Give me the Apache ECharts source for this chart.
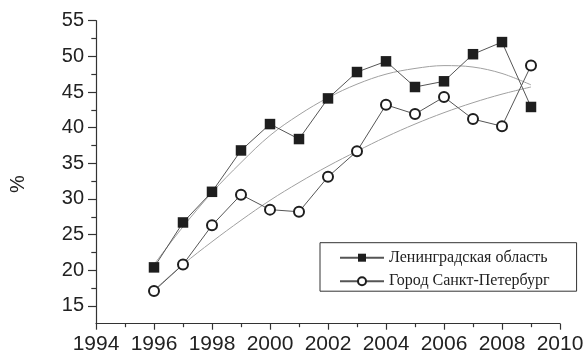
<!DOCTYPE html>
<html>
<head>
<meta charset="utf-8">
<script src="https://cdn.jsdelivr.net/npm/echarts@6/dist/echarts.min.js"></script>
<style>html,body{margin:0;padding:0;background:#fff;}#c{width:587px;height:356px;}</style>
</head>
<body>
<div id="c"></div>
<script>
const years = [1996,1997,1998,1999,2000,2001,2002,2003,2004,2005,2006,2007,2008,2009];
const leningradObl = [20.4,26.7,31.0,36.8,40.5,38.4,44.1,47.8,49.3,45.7,46.5,50.3,52.0,42.9];
const spb = [17.1,20.8,26.3,30.6,28.5,28.2,33.1,36.7,43.2,41.9,44.3,41.2,40.2,48.7];
const leningradTrend = [20.8,26.1,30.9,35.1,38.9,41.8,44.2,46.1,47.5,48.3,48.7,48.5,47.6,46.0];
const spbTrend = [17.2,20.8,24.0,27.0,29.8,32.3,34.6,36.7,38.7,40.5,42.1,43.5,44.7,45.7];
const yTicks = [15,20,25,30,35,40,45,50,55];
const yMinorTicks = [17.5,22.5,27.5,32.5,37.5,42.5,47.5,52.5];
const names = ['Ленинградская область','Город Санкт-Петербург'];

const pairs = (xs, ys) => xs.map((x, i) => [x, ys[i]]);
const chart = echarts.init(document.getElementById('c'), null, {renderer: 'canvas'});
const axisColor = '#333';
const sans = 'Liberation Sans';
chart.setOption({
  animation: false,
  grid: {left: 96, right: 27, top: 20.7, bottom: 32.3, containLabel: false},
  xAxis: {
    type: 'value', min: 1994, max: 2010, interval: 2,
    axisLine: {show: true, lineStyle: {color: axisColor, width: 1.2}},
    axisTick: {show: true, length: 6, lineStyle: {color: axisColor, width: 1.2}},
    minorTick: {show: true, splitNumber: 2, length: 3.5, lineStyle: {color: axisColor, width: 1.2}},
    axisLabel: {color: '#222', fontFamily: sans, fontSize: 21, margin: 10, formatter: v => String(v)},
    splitLine: {show: false}
  },
  yAxis: [{
    type: 'value', min: 12.5, max: 55,
    axisLine: {show: true, lineStyle: {color: axisColor, width: 1.2}},
    axisTick: {show: true, length: 8, customValues: yTicks, lineStyle: {color: axisColor, width: 1.2}},
    axisLabel: {color: '#222', fontFamily: sans, fontSize: 20, margin: 12, customValues: yTicks},
    splitLine: {show: false}
  }, {
    type: 'value', min: 12.5, max: 55, position: 'left',
    axisLine: {show: false},
    axisTick: {show: true, length: 4.7, customValues: yMinorTicks, lineStyle: {color: axisColor, width: 1.2}},
    axisLabel: {show: false},
    splitLine: {show: false}
  }],
  legend: {
    orient: 'vertical', left: 320, top: 242.7,
    data: names,
    borderColor: '#333', borderWidth: 1,
    padding: [6, 27, 1, 19],
    itemWidth: 44, itemHeight: 10, itemGap: 5.5,
    textStyle: {fontFamily: 'Liberation Serif', fontSize: 16, color: '#222', lineHeight: 18}
  },
  graphic: [{
    type: 'text', x: 18, y: 184, rotation: Math.PI / 2,
    style: {text: '%', fontFamily: sans, fontSize: 20, fill: '#222', align: 'center', verticalAlign: 'middle'}
  }],
  series: [
    {type: 'line', name: 'trend1', data: pairs(years, leningradTrend), smooth: 0.35, showSymbol: false, symbol: 'none',
      lineStyle: {color: '#a0a0a0', width: 1}, z: 1, silent: true},
    {type: 'line', name: 'trend2', data: pairs(years, spbTrend), smooth: 0.35, showSymbol: false, symbol: 'none',
      lineStyle: {color: '#a0a0a0', width: 1}, z: 1, silent: true},
    {type: 'line', name: names[0], data: pairs(years, leningradObl), symbol: 'rect', symbolSize: 10.5,
      itemStyle: {color: '#1e1e1e'}, lineStyle: {color: '#555', width: 1}, z: 3},
    {type: 'line', name: names[1], data: pairs(years, spb), symbol: 'emptyCircle', symbolSize: 10,
      itemStyle: {color: '#1e1e1e', borderWidth: 1.6}, lineStyle: {color: '#555', width: 1}, z: 3}
  ]
});
</script>
</body>
</html>
